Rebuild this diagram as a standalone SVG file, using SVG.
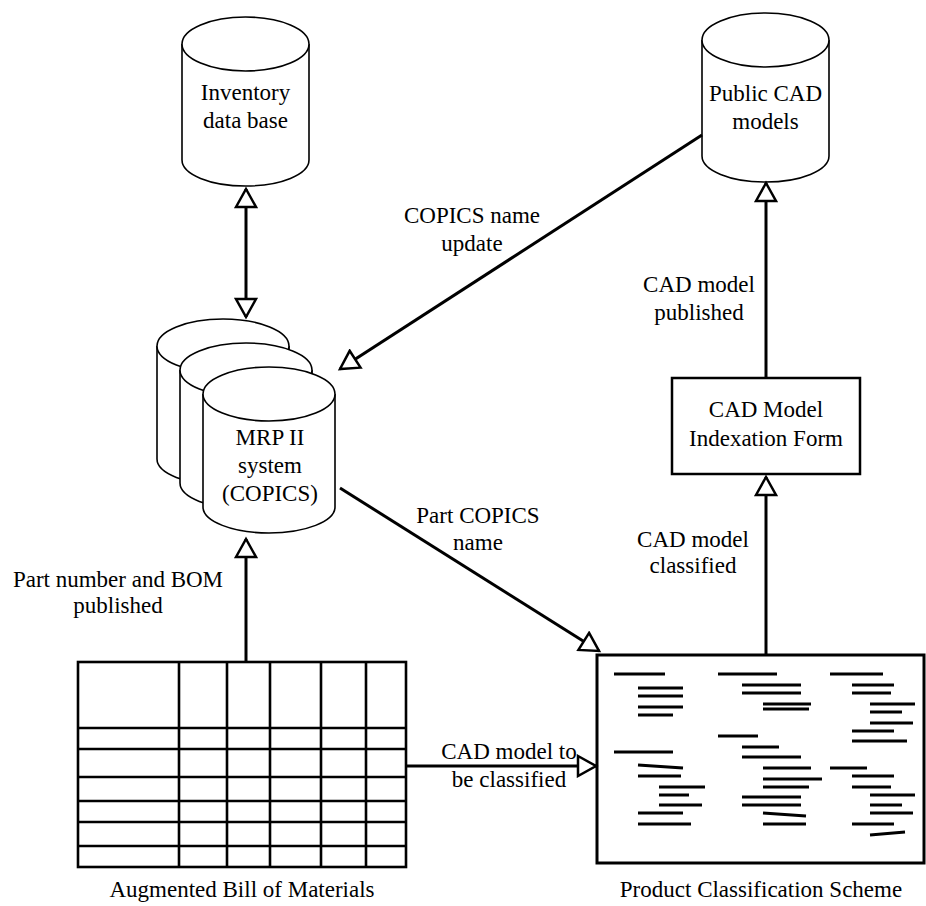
<svg xmlns="http://www.w3.org/2000/svg" width="926" height="906" viewBox="0 0 926 906">
<style>
  text { font-family: "Liberation Serif", "Times New Roman", serif; font-size: 23px; fill: #000; text-anchor: middle; }
  .cyl { fill: #fff; stroke: #000; stroke-width: 1.6; }
  .box { fill: #fff; stroke: #000; stroke-width: 2.5; }
  .conn { fill: none; stroke: #000; stroke-width: 3; }
  .grid { fill: none; stroke: #000; stroke-width: 2.6; }
  .ln { stroke: #000; stroke-width: 3; }
</style>
<defs>
  <marker id="arr" viewBox="-2 -2 24 24" refX="18" refY="10" markerWidth="24" markerHeight="24" markerUnits="userSpaceOnUse" orient="auto-start-reverse">
    <path d="M0,0 L18,10 L0,20 Z" fill="#fff" stroke="#000" stroke-width="2.5"/>
  </marker>
</defs>
<rect width="926" height="906" fill="#fff"/>

<g id="inventory">
  <path class="cyl" d="M182,44 L182,160 A63.5,26 0 0 0 309,160 L309,44"/>
  <ellipse class="cyl" cx="245.5" cy="44" rx="63.5" ry="27"/>
  <text x="245.5" y="100">Inventory</text>
  <text x="245.5" y="128">data base</text>
</g>

<g id="public-cad">
  <path class="cyl" d="M702,40 L702,156 A63.5,26 0 0 0 829,156 L829,40"/>
  <ellipse class="cyl" cx="765.5" cy="40" rx="63.5" ry="27"/>
  <text x="765.5" y="101">Public CAD</text>
  <text x="765.5" y="129">models</text>
</g>

<g id="mrp">
  <path class="cyl" d="M157,346 L157,459 A66,26 0 0 0 289,459 L289,346"/>
  <ellipse class="cyl" cx="223" cy="346" rx="66" ry="27"/>
  <path class="cyl" d="M180,370 L180,483 A66,26 0 0 0 312,483 L312,370"/>
  <ellipse class="cyl" cx="246" cy="370" rx="66" ry="27"/>
  <path class="cyl" d="M203,394 L203,507 A66,26 0 0 0 335,507 L335,394"/>
  <ellipse class="cyl" cx="269" cy="394" rx="66" ry="27"/>
  <text x="270" y="445">MRP II</text>
  <text x="270" y="473">system</text>
  <text x="270" y="501">(COPICS)</text>
</g>

<g id="indexation-form">
  <rect class="box" x="672" y="378" width="188" height="96"/>
  <text x="766" y="417">CAD Model</text>
  <text x="766" y="446">Indexation Form</text>
</g>

<g id="bom">
  <rect class="grid" x="78" y="662" width="328" height="205"/>
  <path class="grid" d="M179,662 V867 M227,662 V867 M270,662 V867 M321,662 V867 M366,662 V867 M78,728 H406 M78,749 H406 M78,777 H406 M78,801 H406 M78,822 H406 M78,846 H406"/>
  <text x="242" y="897">Augmented Bill of Materials</text>
</g>

<g id="classification-scheme">
  <rect fill="#fff" stroke="#000" stroke-width="3" x="597" y="655" width="327" height="208"/>
  <g class="ln">
    <line x1="614" y1="674" x2="665" y2="674"/>
    <line x1="638" y1="688" x2="683" y2="688"/>
    <line x1="638" y1="696" x2="683" y2="696"/>
    <line x1="638" y1="707" x2="683" y2="707"/>
    <line x1="638" y1="715" x2="673" y2="715"/>
    <line x1="614" y1="752" x2="673" y2="752"/>
    <line x1="638" y1="765" x2="683" y2="768"/>
    <line x1="638" y1="776" x2="681" y2="776"/>
    <line x1="659" y1="787" x2="705" y2="787"/>
    <line x1="659" y1="795" x2="689" y2="795"/>
    <line x1="659" y1="805" x2="702" y2="805"/>
    <line x1="638" y1="813" x2="683" y2="813"/>
    <line x1="638" y1="824" x2="691" y2="824"/>

    <line x1="718" y1="674" x2="777" y2="674"/>
    <line x1="742" y1="685" x2="801" y2="685"/>
    <line x1="742" y1="693" x2="801" y2="693"/>
    <line x1="763" y1="704" x2="811" y2="704"/>
    <line x1="763" y1="709" x2="809" y2="709"/>
    <line x1="718" y1="736" x2="758" y2="736"/>
    <line x1="742" y1="747" x2="779" y2="747"/>
    <line x1="742" y1="757" x2="801" y2="757"/>
    <line x1="763" y1="768" x2="811" y2="768"/>
    <line x1="763" y1="779" x2="822" y2="779"/>
    <line x1="763" y1="787" x2="809" y2="787"/>
    <line x1="742" y1="797" x2="801" y2="797"/>
    <line x1="742" y1="805" x2="801" y2="805"/>
    <line x1="763" y1="813" x2="806" y2="816"/>
    <line x1="763" y1="824" x2="806" y2="824"/>

    <line x1="830" y1="674" x2="883" y2="674"/>
    <line x1="852" y1="685" x2="894" y2="685"/>
    <line x1="852" y1="693" x2="891" y2="693"/>
    <line x1="870" y1="704" x2="915" y2="704"/>
    <line x1="870" y1="712" x2="902" y2="712"/>
    <line x1="870" y1="723" x2="913" y2="723"/>
    <line x1="852" y1="731" x2="894" y2="731"/>
    <line x1="852" y1="741" x2="907" y2="741"/>
    <line x1="830" y1="768" x2="867" y2="768"/>
    <line x1="852" y1="776" x2="894" y2="776"/>
    <line x1="852" y1="787" x2="891" y2="787"/>
    <line x1="870" y1="795" x2="915" y2="795"/>
    <line x1="870" y1="805" x2="902" y2="805"/>
    <line x1="870" y1="813" x2="913" y2="813"/>
    <line x1="852" y1="824" x2="894" y2="824"/>
    <line x1="870" y1="835" x2="905" y2="832"/>
  </g>
  <text x="761" y="897">Product Classification Scheme</text>
</g>

<g id="connectors">
  <line class="conn" x1="246" y1="189" x2="246" y2="317" marker-start="url(#arr)" marker-end="url(#arr)"/>
  <line class="conn" x1="702" y1="135" x2="340" y2="369" marker-end="url(#arr)"/>
  <line class="conn" x1="340" y1="488" x2="599" y2="651" marker-end="url(#arr)"/>
  <line class="conn" x1="246" y1="662" x2="246" y2="539" marker-end="url(#arr)"/>
  <line class="conn" x1="406" y1="766" x2="596" y2="766" marker-end="url(#arr)"/>
  <line class="conn" x1="766" y1="654" x2="766" y2="477" marker-end="url(#arr)"/>
  <line class="conn" x1="766" y1="378" x2="766" y2="183" marker-end="url(#arr)"/>
</g>

<g id="labels">
  <text x="472" y="223">COPICS name</text>
  <text x="472" y="251">update</text>
  <text x="699" y="292">CAD model</text>
  <text x="699" y="320">published</text>
  <text x="478" y="523">Part COPICS</text>
  <text x="478" y="550">name</text>
  <text x="693" y="547">CAD model</text>
  <text x="693" y="573">classified</text>
  <text x="118" y="587">Part number and BOM</text>
  <text x="118" y="613">published</text>
  <text x="509" y="759">CAD model to</text>
  <text x="509" y="787">be classified</text>
</g>
</svg>
